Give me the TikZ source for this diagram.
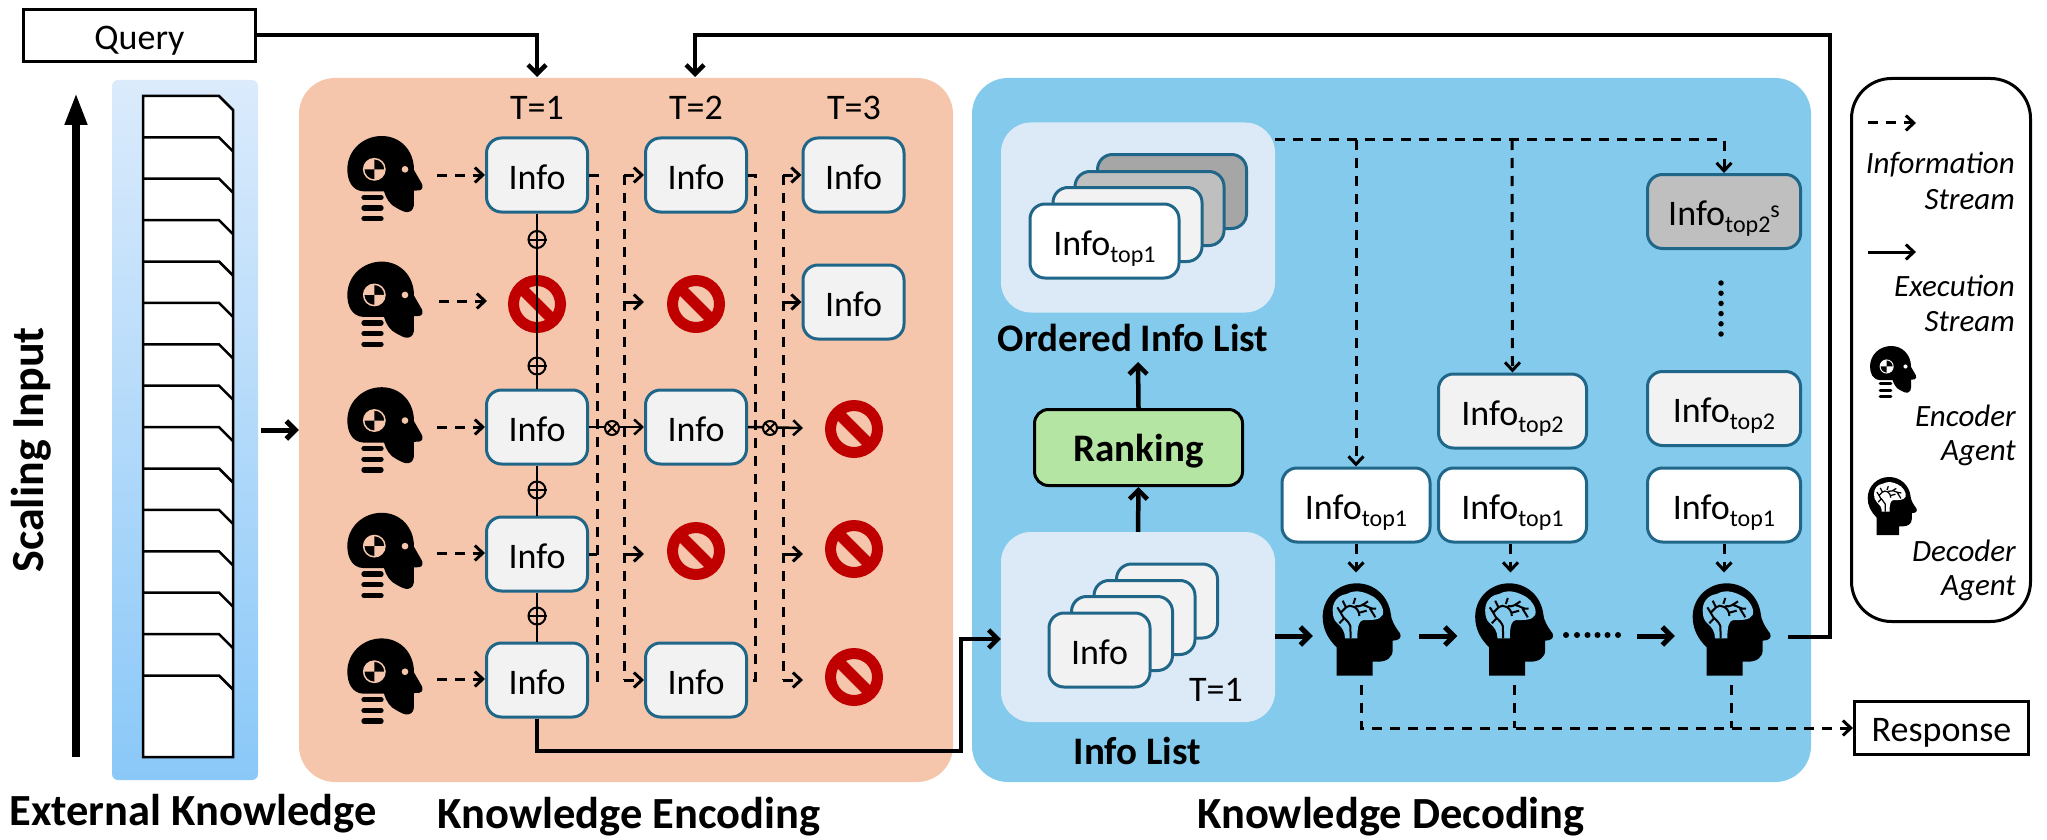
\documentclass[tikz,border=0pt]{standalone}
\usepackage{fontspec}
\setmainfont{Carlito}
\usetikzlibrary{arrows.meta,calc}
\definecolor{peach}{HTML}{F5C6AC}
\definecolor{skyp}{HTML}{83CAEC}
\definecolor{palep}{HTML}{DCE9F7}
\definecolor{boxb}{HTML}{1F6688}
\definecolor{boxg}{HTML}{F2F2F2}
\definecolor{boxm}{HTML}{BFBFBF}
\definecolor{boxd}{HTML}{A6A6A6}
\definecolor{nored}{HTML}{C00000}
\definecolor{rankg}{HTML}{B5E5A2}
\definecolor{exttop}{HTML}{DBEBFC}
\definecolor{extbot}{HTML}{8AC8F8}
\newcommand{\fmain}{\fontsize{36}{40}\selectfont}
\newcommand{\flab}{\fontsize{39}{42}\selectfont\bfseries}
\newcommand{\fbig}{\fontsize{44.5}{48}\selectfont\bfseries}
\newcommand{\fleg}{\fontsize{31}{34}\selectfont\itshape}
\newcommand{\NoDepth}[2][-2pt]{\raisebox{#1}[\height][0pt]{#2}}
\newcommand{\InfoSub}[1]{\NoDepth{Info\raisebox{-7pt}{\fontsize{24}{24}\selectfont #1}}}
\tikzset{
  barb/.tip={Straight Barb[length=9pt,width=18pt]},
  barbs/.tip={Straight Barb[length=8pt,width=15pt]},
  infobox/.style={rounded corners=15pt,draw=boxb,line width=3pt,fill=boxg,minimum width=101pt,minimum height=74pt,inner sep=0pt,font=\fmain},
  topbox/.style={infobox,fill=white,minimum width=148pt},
  headnode/.style={inner sep=0pt,minimum width=76pt,minimum height=60pt},
  brainnode/.style={inner sep=0pt,minimum width=78pt,minimum height=80pt},
  nosign/.style={circle,draw=nored,line width=11pt,inner sep=0pt,minimum size=47pt},
  panel/.style={rounded corners=36pt,inner sep=0pt},
  pale/.style={panel,rounded corners=30pt,fill=palep,minimum width=274pt,minimum height=190pt},
  info/.style={line width=3pt,dash pattern=on 10pt off 8pt},
  infoa/.style={info,-{barbs}},
  exec/.style={line width=4.5pt,-{barb}},
  link/.style={line width=2.5pt},
  plainbox/.style={draw=black,line width=3pt,fill=white,inner sep=0pt,font=\fmain},
  legtext/.style={font=\fleg,anchor=east,inner sep=0pt},
  sm/.style={circle,draw=black,line width=2pt,inner sep=0pt,minimum size=17pt},
  dotf/.style={fill=black,circle,inner sep=0pt,minimum size=5.5pt}
}
\newcommand{\EncHead}[4]{%
\begin{scope}[shift={(#1,#2)},x=#3pt,y=-#3pt]
\fill[black] (125,18) .. controls (70,18) and (22,60) .. (22,118)
 .. controls (22,150) and (35,182) .. (70,184) -- (132,184)
 .. controls (138,205) and (150,225) .. (170,234)
 .. controls (185,242) and (195,248) .. (205,246)
 .. controls (218,244) and (222,232) .. (222,220) -- (222,182) -- (238,181)
 .. controls (248,180) and (250,168) .. (245,160) -- (222,120)
 .. controls (222,60) and (180,18) .. (125,18) -- cycle;
\fill[#4] (195,118) circle (10);
\draw[#4,line width=#3*4.5pt] (103,118) circle (32);
\fill[#4] (103,118) -- (71,118) arc[start angle=180,end angle=90,x radius=32,y radius=-32] -- cycle;
\fill[#4] (103,118) -- (135,118) arc[start angle=0,end angle=-90,x radius=32,y radius=-32] -- cycle;
\draw[black,line width=#3*16pt,line cap=round] (72,202) -- (123,202) (72,234) -- (123,234) (72,266) -- (123,266);
\end{scope}}
\newcommand{\DecHead}[4]{%
\begin{scope}[shift={(#1,#2)},x=#3pt,y=-#3pt]
\fill[black] (50,317) -- (50,232) .. controls (22,205) and (8,175) .. (8,140)
 .. controls (8,85) and (52,40) .. (110,40)
 .. controls (165,40) and (205,80) .. (212,130)
 .. controls (213,150) and (225,170) .. (240,190)
 .. controls (246,202) and (238,212) .. (218,212) -- (218,240)
 .. controls (218,262) and (200,275) .. (175,275) -- (158,275) -- (158,317) -- cycle;
\fill[#4] (38,120) .. controls (38,95) and (55,75) .. (80,72)
 .. controls (105,58) and (130,65) .. (150,75)
 .. controls (175,85) and (195,115) .. (188,135)
 .. controls (180,152) and (150,150) .. (130,150)
 .. controls (118,152) and (112,165) .. (112,205) -- (75,205)
 .. controls (75,185) and (65,170) .. (52,160)
 .. controls (40,150) and (38,135) .. (38,120) -- cycle;
\draw[black,line width=#3*6pt] (92,205) -- (91,168) .. controls (85,150) and (70,148) .. (62,128) -- (52,112)
 (62,128) -- (78,112) -- (68,92)
 (70,147) -- (58,160)
 (118,138) .. controls (118,112) and (90,100) .. (78,112)
 (100,102) -- (106,84)
 (106,108) .. controls (120,112) and (128,104) .. (144,94)
 (128,105) .. controls (145,108) and (150,118) .. (168,116)
 (150,116) -- (166,142)
 (118,128) -- (140,122);
\end{scope}}
\newcommand{\NoSign}[3]{%
\node[nosign] (#1) at (#2,#3) {};
\draw[nored,line width=11pt] (#1.center) ++(-17,-17) -- ++(34,34);}
\newcommand{\OPlus}[3]{%
\node[sm] (#1) at (#2,#3) {};
\draw[black,line width=2pt] (#1.west) -- (#1.east);}
\newcommand{\OTimes}[3]{%
\node[sm,fill=peach,minimum size=14pt] (#1) at (#2,#3) {};
\draw[black,line width=2pt] (#1.45) -- (#1.225) (#1.135) -- (#1.315);}
\begin{document}
\begin{tikzpicture}[x=1pt,y=-1pt]
\useasboundingbox (0,0) rectangle (2047,840);
% panels
\node[inner sep=0pt,rounded corners=6pt,top color=exttop,bottom color=extbot,minimum width=146pt,minimum height=700pt] (ext) at (185,430) {};
\node[panel,fill=peach,minimum width=654pt,minimum height=704pt] (enc) at (626,430) {};
\node[panel,fill=skyp,minimum width=839pt,minimum height=704pt] (dec) at (1391.5,430) {};
% document stack
\draw[black,fill=white,line width=2.5pt] (143,96) -- (219,96) -- (233,110) -- (233,757) -- (143,757) -- cycle;
\foreach \yy in {137.3,178.7,220.1,261.5,302.9,344.3,385.7,427.1,468.5,509.9,551.3,592.7,634.1,675.5}
  \draw[black,line width=2.5pt] (143,\yy) -- (219,\yy) -- (233,\yy+14);
% scaling arrow
\coordinate (sb) at (76,757);
\coordinate (st) at (76,93);
\draw[line width=7.5pt,-{Triangle[length=32pt,width=21pt]}] (sb) -- (st);
\node[font=\fontsize{46}{48}\selectfont\bfseries,rotate=90,inner sep=0pt] (scal) at (31,450) {Scaling Input};
% query / response
\node[plainbox,minimum width=232pt,minimum height=52pt] (query) at (139.5,35.5) {\NoDepth{Query}};
\node[plainbox,minimum width=174pt,minimum height=53pt] (resp) at (1941.5,728) {\NoDepth{Response}};
% time labels
\node[font=\fmain,inner sep=0pt] (t1) at (537,108) {T=1};
\node[font=\fmain,inner sep=0pt] (t2) at (696,108) {T=2};
\node[font=\fmain,inner sep=0pt] (t3) at (854,108) {T=3};
% encoder heads
\foreach \r/\yy/\oy in {1/175/130,2/301/255.6,3/427/381.2,4/553/506.8,5/679/632.4}{
  \node[headnode] (e\r) at (385,\yy) {};
  \EncHead{340}{\oy}{0.3333}{peach}
}
% info boxes
\node[infobox] (i1) at (537,175) {\NoDepth{Info}};
\node[infobox] (i3) at (537,427) {\NoDepth{Info}};
\node[infobox] (i4) at (537,554) {\NoDepth{Info}};
\node[infobox] (i5) at (537,680) {\NoDepth{Info}};
\node[infobox] (j1) at (696,175) {\NoDepth{Info}};
\node[infobox] (j3) at (696,427) {\NoDepth{Info}};
\node[infobox] (j5) at (696,680) {\NoDepth{Info}};
\node[infobox] (k1) at (853.5,175) {\NoDepth{Info}};
\node[infobox] (k2) at (853.5,302) {\NoDepth{Info}};
\NoSign{n12}{537}{304}
\NoSign{n22}{696}{304}
\NoSign{n24}{696}{551}
\NoSign{n33}{854}{429}
\NoSign{n34}{854}{549}
\NoSign{n35}{854}{677}
% head to info arrows
\draw[infoa,shorten <=14pt] (e1.east) -- (i1.west);
\draw[infoa,shorten <=16pt,shorten >=21pt] (e2.east) -- (e2.east -| n12.west);
\draw[infoa,shorten <=14pt] (e3.east) -- (e3.east -| i3.west);
\draw[infoa,shorten <=14pt] (e4.east) -- (e4.east -| i4.west);
\draw[infoa,shorten <=14pt] (e5.east) -- (e5.east -| i5.west);
% merge lines
\draw[link] (i1) -- (i3);
\draw[link] (i3) -- (i4);
\draw[link] (i4) -- (i5);
\OPlus{p1}{537}{239.5}
\OPlus{p2}{537}{366}
\OPlus{p3}{537}{490}
\OPlus{p4}{537}{616}
% first exchange
\draw[info] (i1.east) -- ++(8,0) -- ++(0,505) -- (i5.east);
\draw[info] (i4.east) -- ++(8,0);
\coordinate (la) at (624,175);
\coordinate (lb) at (624,680);
\coordinate (lc) at (624,302);
\coordinate (ld) at (624,554);
\coordinate (lce) at (644,302);
\coordinate (lde) at (644,554);
\draw[info] (la) -- (lb);
\draw[infoa] (la) -- (j1.west);
\draw[infoa] (lb) -- (j5.west);
\draw[-{barbs},line width=3pt] (lc) -- (lce);
\draw[-{barbs},line width=3pt] (ld) -- (lde);
\draw[link,-{barbs}] (i3.east) -- (j3.west);
\OTimes{x1}{612}{428}
% second exchange
\draw[info] (j1.east) -- ++(7,0) -- ++(0,505) -- (j5.east);
\coordinate (ma) at (783,175);
\coordinate (mb) at (783,680);
\coordinate (mc) at (783,302);
\coordinate (md) at (783,554);
\coordinate (mce) at (803,554);
\coordinate (mbe) at (803,680);
\coordinate (mme) at (803,428);
\draw[info] (ma) -- (mb);
\draw[infoa] (ma) -- (k1.west);
\draw[-{barbs},line width=3pt] (mc) -- (k2.west);
\draw[-{barbs},line width=3pt] (md) -- (mce);
\draw[infoa] (mb) -- (mbe);
\draw[link,-{barbs}] (j3.east) -- (mme);
\OTimes{x2}{770}{428}
% execution top lines
\coordinate (qc) at (537,35);
\coordinate (qe) at (537,77);
\draw[exec] (query.east |- qc) -- (qc) -- (qe);
% external to encoding
\draw[line width=5pt,-{barb},shorten <=3pt] (ext.east) -- (enc.west);
% Decoding lists
\node[pale] (olist) at (1138,217.5) {};
\node[pale] (ilist) at (1138,627) {};
\node[infobox,fill=boxd,minimum width=149pt] (oc4) at (1172,191.5) {};
\node[infobox,fill=boxm,minimum width=149pt] (oc3) at (1149.5,208.5) {};
\node[infobox,fill=boxg,minimum width=149pt] (oc2) at (1127.5,224.5) {};
\node[infobox,fill=white,minimum width=149pt] (oc1) at (1104.5,241) {\InfoSub{top1}};
\node[infobox] (lc4) at (1167,601) {};
\node[infobox] (lc3) at (1144.5,617.5) {};
\node[infobox] (lc2) at (1122,633.5) {};
\node[infobox] (lc1) at (1099.5,650) {\NoDepth{Info}};
\node[font=\fmain,inner sep=0pt] (lt) at (1216,690) {T=1};
\node[font=\flab,inner sep=0pt] (ol) at (1133,338) {Ordered Info List};
\node[font=\flab,inner sep=0pt] (il) at (1137.5,751) {Info List};
\node[rounded corners=14pt,draw=black,line width=3pt,fill=rankg,minimum width=208pt,minimum height=76pt,inner sep=0pt,font=\flab] (rank) at (1138.5,447.5) {\NoDepth[0pt]{Ranking}};
\coordinate (rt) at (1138,362);
\draw[exec] (rank.north) -- (rt);
\draw[exec] (ilist.north) -- (rank.south);
% decoder boxes
\node[topbox] (a1) at (1356,505) {\InfoSub{top1}};
\node[topbox,minimum width=148pt] (b1) at (1512.5,505) {\InfoSub{top1}};
\node[infobox,minimum width=148pt] (b2) at (1512.5,411) {\InfoSub{top2}};
\node[topbox,minimum width=153pt] (c1) at (1724,505) {\InfoSub{top1}};
\node[infobox,minimum width=153pt] (c2) at (1724,408.5) {\InfoSub{top2}};
\node[infobox,fill=boxm,minimum width=153pt] (c3) at (1724,211.5) {\NoDepth{Info\raisebox{-7pt}{\fontsize{24}{24}\selectfont top2\raisebox{15pt}{s}}}};
% vertical dots
\foreach \i/\yy in {1/283,2/293.2,3/303.4,4/313.6,5/323.8,6/334}
  \node[dotf] (vd\i) at (1721,\yy) {};
% dashed top distribution
\coordinate (dj) at (1724,140);
\coordinate (dja) at (1356,140);
\coordinate (djb) at (1512,140);
\draw[infoa] (olist.east |- dj) -- (dj) -- (c3.north);
\draw[infoa] (dja) -- (a1.north);
\draw[infoa] (djb) -- (b2.north);
% decoder heads
\node[brainnode] (d1) at (1362,636) {};
\node[brainnode] (d2) at (1514.5,636) {};
\node[brainnode] (d3) at (1732,636) {};
\DecHead{1320}{570}{0.3333}{skyp}
\DecHead{1472.5}{570}{0.3333}{skyp}
\DecHead{1690}{570}{0.3333}{skyp}
\draw[infoa] (a1.south) -- ++(0,29);
\draw[infoa] (b1.south) ++(-2,0) -- ++(0,29);
\draw[infoa] (c1.south) -- ++(0,29);
% execution row
\draw[line width=5pt,-{barb},shorten >=10pt] (d1.west -| ilist.east) -- (d1.west);
\draw[line width=5pt,-{barb},shorten <=18pt,shorten >=18pt] (d1.east) -- (d2.west);
\foreach \i/\xx in {1/1566,2/1577,3/1587.5,4/1597.5,5/1607.5,6/1618}
  \node[dotf,minimum size=6pt] (hd\i) at (\xx,635) {};
\draw[line width=5pt,-{barb}] ([xshift=-56pt]d3.west) -- ([xshift=-18pt]d3.west);
% return line
\coordinate (rc) at (1830,637);
\coordinate (rd) at (1830,35);
\coordinate (re) at (695,35);
\coordinate (rf) at (695,77);
\coordinate (rs) at (1788,637);
\draw[exec] (rs) -- (rc) -- (rd) -- (re) -- (rf);
% encoded list into decoder
\coordinate (ea) at (537,751);
\coordinate (eb) at (961,751);
\coordinate (ec) at (961,639);
\draw[exec] (i5.south) -- (ea) -- (eb) -- (ec) -- (ec -| ilist.west);
% response dashes
\coordinate (ra) at (1361,685);
\coordinate (rb) at (1361,728);
\coordinate (rg) at (1514,685);
\coordinate (rh) at (1514,728);
\coordinate (ri) at (1731,685);
\coordinate (rj) at (1731,728);
\draw[infoa] (ra) -- (rb) -- (resp.west);
\draw[info] (rg) -- (rh);
\draw[info] (ri) -- (rj);
% legend
\node[draw=black,line width=3pt,rounded corners=40pt,fill=white,minimum width=179pt,minimum height=543pt,inner sep=0pt] (leg) at (1941,350) {};
\coordinate (l1a) at (1868,123);
\coordinate (l1b) at (1916,123);
\coordinate (l2a) at (1868,252);
\coordinate (l2b) at (1916,252);
\draw[infoa] (l1a) -- (l1b);
\draw[line width=3pt,-{barbs}] (l2a) -- (l2b);
\node[legtext] (lg1) at (2015,165) {Information};
\node[legtext] (lg2) at (2015,200) {Stream};
\node[legtext] (lg3) at (2015,286) {Execution};
\node[legtext] (lg4) at (2015,322) {Stream};
\node[legtext] (lg5) at (2016,416) {Encoder};
\node[legtext] (lg6) at (2016,453) {Agent};
\node[legtext] (lg7) at (2016,551) {Decoder};
\node[legtext] (lg8) at (2016,588) {Agent};
\EncHead{1865.5}{342.3}{0.205}{white}
\DecHead{1866}{468.6}{0.21}{white}
% section labels
\node[font=\fbig,inner sep=0pt] (s1) at (193,814) {External Knowledge};
\node[font=\fbig,inner sep=0pt] (s2) at (629,817) {Knowledge Encoding};
\node[font=\fbig,inner sep=0pt] (s3) at (1391,817) {Knowledge Decoding};
\end{tikzpicture}
\end{document}
